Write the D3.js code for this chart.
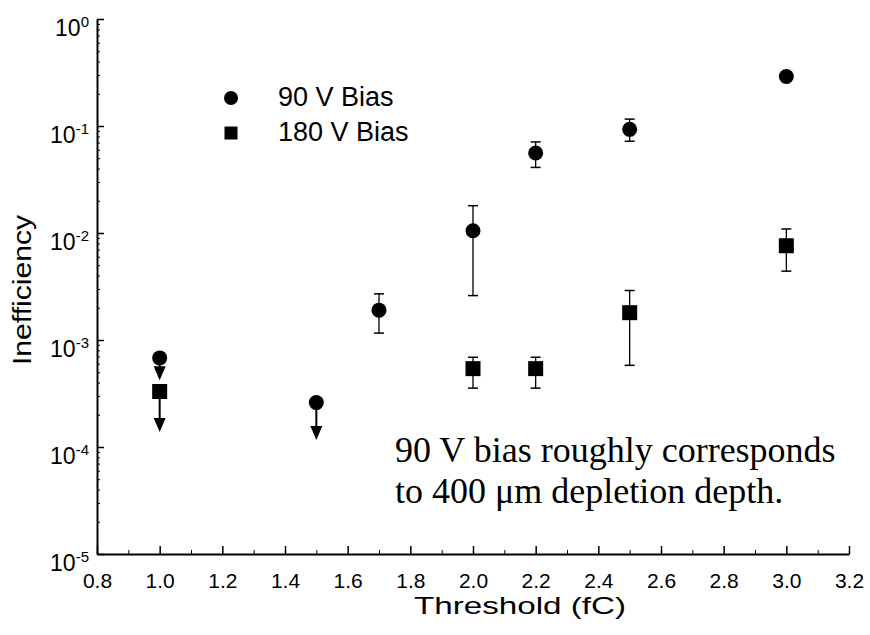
<!DOCTYPE html>
<html>
<head>
<meta charset="utf-8">
<script src="https://cdn.jsdelivr.net/npm/d3@7"></script>
<style>
  body { margin: 0; background: #fff; }
  svg { display: block; }
</style>
</head>
<body>
<div id="chart"></div>
<script>
// Inefficiency vs threshold, two bias voltages (log scale)

// 90 V bias
const x90 = [1.0, 1.5, 1.7, 2.0, 2.2, 2.5, 3.0];
const y90 = [6.8e-4, 2.6e-4, 1.9e-3, 1.05e-2, 5.6e-2, 9.3e-2, 0.29];
const lo90 = [null, null, 1.16e-3, 2.6e-3, 4.1e-2, 7.2e-2, null];
const hi90 = [null, null, 2.7e-3, 1.8e-2, 7.1e-2, 1.16e-1, null];
const limit90 = [4.2e-4, 1.16e-4, null, null, null, null, null]; // upper limits, arrow tip

// 180 V bias
const x180 = [1.0, 2.0, 2.2, 2.5, 3.0];
const y180 = [3.3e-4, 5.4e-4, 5.4e-4, 1.8e-3, 7.6e-3];
const lo180 = [null, 3.55e-4, 3.55e-4, 5.8e-4, 4.4e-3];
const hi180 = [null, 6.9e-4, 6.9e-4, 2.9e-3, 1.09e-2];
const limit180 = [1.38e-4, null, null, null, null];

const xTicks = [0.8, 1.0, 1.2, 1.4, 1.6, 1.8, 2.0, 2.2, 2.4, 2.6, 2.8, 3.0, 3.2];
const xMinor = [0.9, 1.1, 1.3, 1.5, 1.7, 1.9, 2.1, 2.3, 2.5, 2.7, 2.9, 3.1];
const yDecades = [1e-5, 1e-4, 1e-3, 1e-2, 1e-1, 1];
const seriesNames = ['90 V Bias', '180 V Bias'];
const noteLines = ['90 V bias roughly corresponds', 'to 400 \u03bcm depletion depth.'];

const W = 870, H = 635;
const sans = '"Liberation Sans", Arial, Helvetica, sans-serif';

const svg = d3.select('#chart').append('svg')
    .attr('width', W)
    .attr('height', H);

const x = d3.scaleLinear().domain([0.8, 3.2]).range([97, 849]);
const y = d3.scaleLog().domain([1e-5, 1]).range([554, 19]);

// minor y ticks (2..9 in each decade)
const yMinor = [];
yDecades.slice(0, -1).forEach(d => {
    for (let k = 2; k <= 9; k++) yMinor.push(d * k);
});

// x axis
const xAxis = svg.append('g')
    .attr('transform', `translate(0, ${y(1e-5)})`)
    .call(d3.axisBottom(x).tickValues(xTicks).tickSizeInner(-8).tickSizeOuter(0)
        .tickPadding(19).tickFormat(d3.format('.1f')));
xAxis.select('.domain').attr('stroke-width', 2);
xAxis.selectAll('.tick line').attr('stroke-width', 1.5);
xAxis.selectAll('text').style('font-family', sans).style('font-size', '21px').attr('fill', '#000');

svg.append('g')
    .attr('transform', `translate(0, ${y(1e-5)})`)
    .call(d3.axisBottom(x).tickValues(xMinor).tickSize(-4).tickFormat(''))
    .call(g => g.select('.domain').remove());

// y axis
const yAxis = svg.append('g')
    .attr('transform', `translate(${x(0.8)}, 0)`)
    .call(d3.axisLeft(y).tickValues(yDecades).tickSizeInner(-7).tickSizeOuter(0)
        .tickPadding(8).tickFormat(''));
yAxis.select('.domain').attr('stroke-width', 2);
yAxis.selectAll('.tick line').attr('stroke-width', 1.5);
yAxis.selectAll('.tick text').each(function(d) {
    const t = d3.select(this)
        .attr('dy', '0.72em')
        .style('font-family', sans)
        .style('font-size', '23px')
        .attr('fill', '#000');
    t.append('tspan').text('10');
    t.append('tspan').attr('dy', -9).style('font-size', '15px').text(Math.round(Math.log10(d)));
});

svg.append('g')
    .attr('transform', `translate(${x(0.8)}, 0)`)
    .call(d3.axisLeft(y).tickValues(yMinor).tickSize(-3).tickFormat(''))
    .call(g => g.select('.domain').remove());

// axis titles
svg.append('text')
    .attr('x', 520)
    .attr('y', 614)
    .attr('text-anchor', 'middle')
    .attr('textLength', 212)
    .attr('lengthAdjust', 'spacingAndGlyphs')
    .style('font-family', sans)
    .style('font-size', '24px')
    .text('Threshold (fC)');

svg.append('text')
    .attr('transform', 'translate(31, 290) rotate(-90)')
    .attr('text-anchor', 'middle')
    .attr('textLength', 150)
    .attr('lengthAdjust', 'spacingAndGlyphs')
    .style('font-family', sans)
    .style('font-size', '25px')
    .text('Inefficiency');

// build point records
function makePoints(xs, ys, lo, hi, lim) {
    return xs.map((v, i) => ({ x: v, y: ys[i], lo: lo[i], hi: hi[i], lim: lim[i] }));
}
const pts90 = makePoints(x90, y90, lo90, hi90, limit90);
const pts180 = makePoints(x180, y180, lo180, hi180, limit180);

const plot = svg.append('g');

function drawErrors(pts) {
    const withErr = pts.filter(d => d.lo != null);
    plot.selectAll(null).data(withErr).enter().append('line')
        .attr('x1', d => x(d.x)).attr('x2', d => x(d.x))
        .attr('y1', d => y(d.lo)).attr('y2', d => y(d.hi))
        .attr('stroke', '#000').attr('stroke-width', 1.3);
    ['lo', 'hi'].forEach(k => {
        plot.selectAll(null).data(withErr).enter().append('line')
            .attr('x1', d => x(d.x) - 5).attr('x2', d => x(d.x) + 5)
            .attr('y1', d => y(d[k])).attr('y2', d => y(d[k]))
            .attr('stroke', '#000').attr('stroke-width', 1.5);
    });
}

function drawLimits(pts) {
    const lim = pts.filter(d => d.lim != null);
    const headH = 14, headW = 6;
    plot.selectAll(null).data(lim).enter().append('line')
        .attr('x1', d => x(d.x)).attr('x2', d => x(d.x))
        .attr('y1', d => y(d.y)).attr('y2', d => y(d.lim) - headH + 2)
        .attr('stroke', '#000').attr('stroke-width', 2);
    plot.selectAll(null).data(lim).enter().append('path')
        .attr('d', d => {
            const cx = x(d.x), ty = y(d.lim);
            return `M${cx},${ty} L${cx - headW},${ty - headH} L${cx + headW},${ty - headH} Z`;
        })
        .attr('fill', '#000');
}

drawErrors(pts90);
drawErrors(pts180);
drawLimits(pts90);
drawLimits(pts180);

plot.selectAll('circle.p90').data(pts90).enter().append('circle')
    .attr('class', 'p90')
    .attr('cx', d => x(d.x))
    .attr('cy', d => y(d.y))
    .attr('r', 7.5)
    .attr('fill', '#000');

const sq = 15;
plot.selectAll('rect.p180').data(pts180).enter().append('rect')
    .attr('class', 'p180')
    .attr('x', d => x(d.x) - sq / 2)
    .attr('y', d => y(d.y) - sq / 2)
    .attr('width', sq)
    .attr('height', sq)
    .attr('fill', '#000');

// legend
const legend = svg.append('g').attr('transform', 'translate(231, 98)');
seriesNames.forEach((name, i) => {
    const item = legend.append('g').attr('transform', `translate(0, ${i * 35})`);
    if (i === 0) {
        item.append('circle').attr('r', 7).attr('fill', '#000');
    } else {
        item.append('rect').attr('x', -6.5).attr('y', -6.5).attr('width', 13).attr('height', 13).attr('fill', '#000');
    }
    item.append('text')
        .attr('x', 47)
        .attr('y', 8)
        .style('font-family', sans)
        .style('font-size', '27px')
        .text(name);
});

// annotation
noteLines.forEach((line, i) => {
    svg.append('text')
        .attr('x', 395)
        .attr('y', 462 + i * 41)
        .style('font-family', '"Liberation Serif", "Times New Roman", serif')
        .style('font-size', '36px')
        .text(line);
});
</script>
</body>
</html>
